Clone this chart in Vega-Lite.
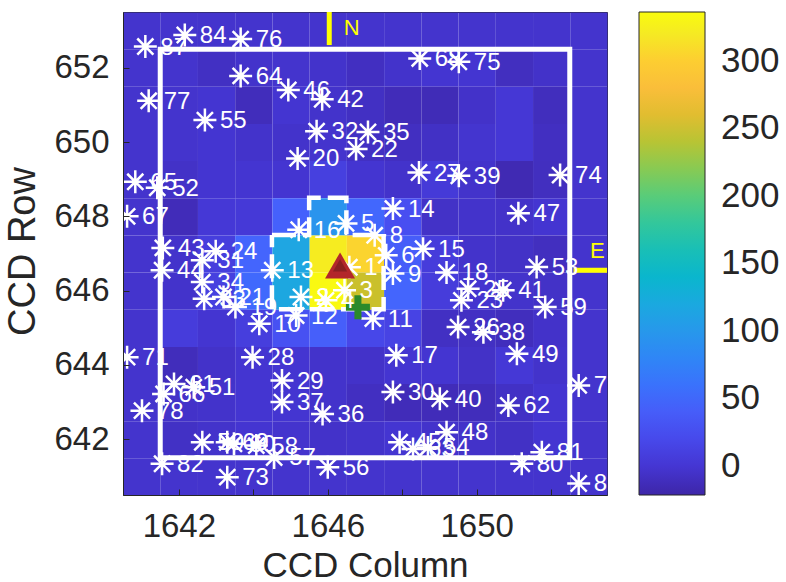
{
  "$schema": "https://vega.github.io/schema/vega-lite/v6.json",
  "width": 484,
  "height": 483,
  "autosize": {"type": "none"},
  "padding": {"left": 123, "top": 12, "right": 179, "bottom": 87},
  "background": "white",
  "config": {"view": {"stroke": "#262626", "strokeWidth": 1}},
  "resolve": {"axis": {"x": "independent", "y": "independent"}},
  "datasets": {
    "pixels": [
      {"col":1641,"row":653,"flux":-3},{"col":1642,"row":653,"flux":-3},{"col":1643,"row":653,"flux":-3},{"col":1644,"row":653,"flux":-3},{"col":1645,"row":653,"flux":-3},{"col":1646,"row":653,"flux":-3},{"col":1647,"row":653,"flux":-3},{"col":1648,"row":653,"flux":-3},{"col":1649,"row":653,"flux":-3},{"col":1650,"row":653,"flux":-3},{"col":1651,"row":653,"flux":-3},{"col":1652,"row":653,"flux":-3},{"col":1653,"row":653,"flux":-3},
      {"col":1641,"row":652,"flux":-3},{"col":1642,"row":652,"flux":-3},{"col":1643,"row":652,"flux":-8},{"col":1644,"row":652,"flux":-4},{"col":1645,"row":652,"flux":-3},{"col":1646,"row":652,"flux":-4},{"col":1647,"row":652,"flux":-9},{"col":1648,"row":652,"flux":-4},{"col":1649,"row":652,"flux":-1},{"col":1650,"row":652,"flux":-1},{"col":1651,"row":652,"flux":-10},{"col":1652,"row":652,"flux":-5},{"col":1653,"row":652,"flux":-3},
      {"col":1641,"row":651,"flux":-3},{"col":1642,"row":651,"flux":-3},{"col":1643,"row":651,"flux":-1},{"col":1644,"row":651,"flux":-12},{"col":1645,"row":651,"flux":-1},{"col":1646,"row":651,"flux":-4},{"col":1647,"row":651,"flux":-8},{"col":1648,"row":651,"flux":-13},{"col":1649,"row":651,"flux":-14},{"col":1650,"row":651,"flux":-5},{"col":1651,"row":651,"flux":1},{"col":1652,"row":651,"flux":-11},{"col":1653,"row":651,"flux":-3},
      {"col":1641,"row":650,"flux":-3},{"col":1642,"row":650,"flux":-3},{"col":1643,"row":650,"flux":-1},{"col":1644,"row":650,"flux":-4},{"col":1645,"row":650,"flux":-4},{"col":1646,"row":650,"flux":-3},{"col":1647,"row":650,"flux":-8},{"col":1648,"row":650,"flux":-9},{"col":1649,"row":650,"flux":-7},{"col":1650,"row":650,"flux":-2},{"col":1651,"row":650,"flux":1},{"col":1652,"row":650,"flux":-9},{"col":1653,"row":650,"flux":-3},
      {"col":1641,"row":649,"flux":-3},{"col":1642,"row":649,"flux":-6},{"col":1643,"row":649,"flux":-1},{"col":1644,"row":649,"flux":-1},{"col":1645,"row":649,"flux":-1},{"col":1646,"row":649,"flux":10},{"col":1647,"row":649,"flux":-1},{"col":1648,"row":649,"flux":-4},{"col":1649,"row":649,"flux":4},{"col":1650,"row":649,"flux":-4},{"col":1651,"row":649,"flux":-16},{"col":1652,"row":649,"flux":-10},{"col":1653,"row":649,"flux":-3},
      {"col":1641,"row":648,"flux":-3},{"col":1642,"row":648,"flux":-13},{"col":1643,"row":648,"flux":2},{"col":1644,"row":648,"flux":3},{"col":1645,"row":648,"flux":45},{"col":1646,"row":648,"flux":95},{"col":1647,"row":648,"flux":50},{"col":1648,"row":648,"flux":25},{"col":1649,"row":648,"flux":-6},{"col":1650,"row":648,"flux":-4},{"col":1651,"row":648,"flux":-5},{"col":1652,"row":648,"flux":-1},{"col":1653,"row":648,"flux":-3},
      {"col":1641,"row":647,"flux":-3},{"col":1642,"row":647,"flux":-4},{"col":1643,"row":647,"flux":8},{"col":1644,"row":647,"flux":48},{"col":1645,"row":647,"flux":116},{"col":1646,"row":647,"flux":322},{"col":1647,"row":647,"flux":304},{"col":1648,"row":647,"flux":40},{"col":1649,"row":647,"flux":6},{"col":1650,"row":647,"flux":-4},{"col":1651,"row":647,"flux":-6},{"col":1652,"row":647,"flux":-10},{"col":1653,"row":647,"flux":-3},
      {"col":1641,"row":646,"flux":-3},{"col":1642,"row":646,"flux":-4},{"col":1643,"row":646,"flux":10},{"col":1644,"row":646,"flux":52},{"col":1645,"row":646,"flux":118},{"col":1646,"row":646,"flux":334},{"col":1647,"row":646,"flux":248},{"col":1648,"row":646,"flux":48},{"col":1649,"row":646,"flux":6},{"col":1650,"row":646,"flux":-2},{"col":1651,"row":646,"flux":-4},{"col":1652,"row":646,"flux":-6},{"col":1653,"row":646,"flux":-3},
      {"col":1641,"row":645,"flux":-3},{"col":1642,"row":645,"flux":6},{"col":1643,"row":645,"flux":-1},{"col":1644,"row":645,"flux":8},{"col":1645,"row":645,"flux":28},{"col":1646,"row":645,"flux":42},{"col":1647,"row":645,"flux":18},{"col":1648,"row":645,"flux":14},{"col":1649,"row":645,"flux":-8},{"col":1650,"row":645,"flux":-8},{"col":1651,"row":645,"flux":-11},{"col":1652,"row":645,"flux":-5},{"col":1653,"row":645,"flux":-3},
      {"col":1641,"row":644,"flux":-3},{"col":1642,"row":644,"flux":-12},{"col":1643,"row":644,"flux":-5},{"col":1644,"row":644,"flux":-1},{"col":1645,"row":644,"flux":-1},{"col":1646,"row":644,"flux":-4},{"col":1647,"row":644,"flux":-5},{"col":1648,"row":644,"flux":-1},{"col":1649,"row":644,"flux":-1},{"col":1650,"row":644,"flux":-6},{"col":1651,"row":644,"flux":2},{"col":1652,"row":644,"flux":-4},{"col":1653,"row":644,"flux":-3},
      {"col":1641,"row":643,"flux":-3},{"col":1642,"row":643,"flux":-5},{"col":1643,"row":643,"flux":-4},{"col":1644,"row":643,"flux":-1},{"col":1645,"row":643,"flux":-1},{"col":1646,"row":643,"flux":-4},{"col":1647,"row":643,"flux":-9},{"col":1648,"row":643,"flux":-13},{"col":1649,"row":643,"flux":-13},{"col":1650,"row":643,"flux":-12},{"col":1651,"row":643,"flux":-7},{"col":1652,"row":643,"flux":-1},{"col":1653,"row":643,"flux":-3},
      {"col":1641,"row":642,"flux":-3},{"col":1642,"row":642,"flux":-7},{"col":1643,"row":642,"flux":-4},{"col":1644,"row":642,"flux":-1},{"col":1645,"row":642,"flux":-3},{"col":1646,"row":642,"flux":-5},{"col":1647,"row":642,"flux":-4},{"col":1648,"row":642,"flux":-1},{"col":1649,"row":642,"flux":-4},{"col":1650,"row":642,"flux":-5},{"col":1651,"row":642,"flux":-7},{"col":1652,"row":642,"flux":-1},{"col":1653,"row":642,"flux":-3},
      {"col":1641,"row":641,"flux":-3},{"col":1642,"row":641,"flux":-3},{"col":1643,"row":641,"flux":-3},{"col":1644,"row":641,"flux":-3},{"col":1645,"row":641,"flux":-3},{"col":1646,"row":641,"flux":-3},{"col":1647,"row":641,"flux":-3},{"col":1648,"row":641,"flux":-3},{"col":1649,"row":641,"flux":-3},{"col":1650,"row":641,"flux":-3},{"col":1651,"row":641,"flux":-3},{"col":1652,"row":641,"flux":-3},{"col":1653,"row":641,"flux":-3}
    ],
    "box": [{"c1":1641.5,"c2":1652.5,"r1":641.5,"r2":652.5}],
    "aperture": [
      {"o":0,"col":1644.5,"row":647.5},{"o":1,"col":1645.5,"row":647.5},{"o":2,"col":1645.5,"row":648.5},{"o":3,"col":1646.5,"row":648.5},{"o":4,"col":1646.5,"row":647.5},{"o":5,"col":1647.5,"row":647.5},{"o":6,"col":1647.5,"row":645.5},{"o":7,"col":1644.5,"row":645.5},{"o":8,"col":1644.5,"row":647.5}
    ],
    "compass": [
      {"dir":"N","c1":1646.04,"c2":1646.04,"r1":653.5,"r2":652.61,"lc":1646.64,"lr":653.07},
      {"dir":"E","c1":1652.6,"c2":1653.5,"r1":646.55,"r2":646.55,"lc":1653.24,"lr":647.08}
    ],
    "target": [{"col":1646.33,"row":646.68}],
    "centroid": [{"col":1646.81,"row":645.55}],
    "stars": [
      {"name":"87","col":1641.10,"row":652.57},{"name":"84","col":1642.16,"row":652.88},{"name":"76","col":1643.66,"row":652.77},{"name":"64","col":1643.66,"row":651.78},
      {"name":"46","col":1644.94,"row":651.40},{"name":"42","col":1645.85,"row":651.15},{"name":"77","col":1641.19,"row":651.11},{"name":"55","col":1642.70,"row":650.59},
      {"name":"32","col":1645.70,"row":650.29},{"name":"35","col":1647.08,"row":650.27},{"name":"22","col":1646.76,"row":649.81},{"name":"20","col":1645.19,"row":649.56},
      {"name":"65","col":1640.83,"row":648.93},{"name":"52","col":1641.42,"row":648.77},{"name":"67","col":1640.61,"row":648.00},{"name":"16","col":1645.22,"row":647.64},
      {"name":"5","col":1646.49,"row":647.81},{"name":"8","col":1647.26,"row":647.49},{"name":"14","col":1647.75,"row":648.21},{"name":"43","col":1641.57,"row":647.15},
      {"name":"24","col":1642.99,"row":647.06},{"name":"68","col":1648.47,"row":652.25},{"name":"75","col":1649.52,"row":652.16},{"name":"27","col":1648.45,"row":649.18},
      {"name":"39","col":1649.52,"row":649.09},{"name":"74","col":1652.24,"row":649.11},{"name":"47","col":1651.12,"row":648.08},{"name":"15","col":1648.56,"row":647.13},
      {"name":"31","col":1642.63,"row":646.82},{"name":"44","col":1641.55,"row":646.55},{"name":"34","col":1642.63,"row":646.23},{"name":"13","col":1644.51,"row":646.55},
      {"name":"1","col":1646.58,"row":646.63},{"name":"2","col":1645.28,"row":645.83},{"name":"4","col":1645.95,"row":645.74},{"name":"3","col":1646.45,"row":646.01},
      {"name":"12","col":1645.15,"row":645.33},{"name":"10","col":1644.16,"row":645.11},{"name":"33","col":1642.68,"row":645.78},{"name":"21","col":1643.20,"row":645.83},
      {"name":"19","col":1643.52,"row":645.56},{"name":"6","col":1647.57,"row":646.95},{"name":"9","col":1647.75,"row":646.46},{"name":"18","col":1649.19,"row":646.49},
      {"name":"25","col":1649.77,"row":646.05},{"name":"23","col":1649.59,"row":645.74},{"name":"41","col":1650.71,"row":646.01},{"name":"53","col":1651.61,"row":646.64},
      {"name":"59","col":1651.84,"row":645.56},{"name":"11","col":1647.21,"row":645.25},{"name":"26","col":1649.50,"row":645.02},{"name":"38","col":1650.18,"row":644.88},
      {"name":"17","col":1647.84,"row":644.26},{"name":"49","col":1651.08,"row":644.30},{"name":"30","col":1647.75,"row":643.27},{"name":"40","col":1649.01,"row":643.09},
      {"name":"62","col":1650.85,"row":642.91},{"name":"7","col":1652.74,"row":643.45},{"name":"48","col":1649.19,"row":642.19},{"name":"45","col":1647.93,"row":641.92},
      {"name":"63","col":1648.29,"row":641.74},{"name":"54","col":1648.69,"row":641.78},{"name":"81","col":1651.75,"row":641.65},{"name":"80","col":1651.21,"row":641.34},
      {"name":"85","col":1652.74,"row":640.81},{"name":"71","col":1640.61,"row":644.21},{"name":"28","col":1643.98,"row":644.21},{"name":"61","col":1641.87,"row":643.49},
      {"name":"66","col":1641.59,"row":643.22},{"name":"51","col":1642.40,"row":643.40},{"name":"78","col":1641.01,"row":642.77},{"name":"29","col":1644.77,"row":643.58},
      {"name":"37","col":1644.77,"row":643.00},{"name":"36","col":1645.86,"row":642.68},{"name":"50","col":1642.63,"row":641.92},{"name":"69","col":1643.30,"row":641.92},
      {"name":"60","col":1643.48,"row":641.88},{"name":"58","col":1644.08,"row":641.83},{"name":"57","col":1644.56,"row":641.51},{"name":"82","col":1641.55,"row":641.34},
      {"name":"73","col":1643.30,"row":640.98},{"name":"56","col":1646.00,"row":641.25}
    ]
  },
  "layer": [
    {
      "data": {"name": "pixels"},
      "mark": {"type": "rect", "binSpacing": 0, "strokeWidth": 0},
      "encoding": {
        "x": {
          "field": "col", "type": "quantitative",
          "bin": {"step": 1, "anchor": 0.5, "extent": [1640.5, 1653.5], "nice": false},
          "scale": {"domain": [1640.5, 1653.5], "nice": false, "zero": false},
          "axis": {
            "values": [1642, 1644, 1646, 1648, 1650, 1652],
            "labelExpr": "datum.value % 4 == 2 ? format(datum.value, 'd') : ''",
            "grid": false, "tickSize": -6, "labelPadding": 21,
            "labelFont": "Liberation Sans, sans-serif",
            "labelFontSize": 33, "labelColor": "#262626",
            "tickColor": "#262626", "domainColor": "#262626",
            "title": "CCD Column",
            "titleFont": "Liberation Sans, sans-serif",
            "titleFontSize": 35, "titleFontWeight": "normal", "titleColor": "#262626",
            "titleBaseline": "alphabetic", "titleY": 81
          }
        },
        "y": {
          "field": "row", "type": "quantitative",
          "bin": {"step": 1, "anchor": 0.5, "extent": [640.5, 653.5], "nice": false},
          "scale": {"domain": [640.5, 653.5], "nice": false, "zero": false},
          "axis": {
            "values": [642, 644, 646, 648, 650, 652],
            "labelExpr": "format(datum.value, 'd')",
            "grid": false, "tickSize": -6, "labelPadding": 20,
            "labelFont": "Liberation Sans, sans-serif",
            "labelFontSize": 33, "labelColor": "#262626",
            "tickColor": "#262626", "domainColor": "#262626",
            "title": "CCD Row",
            "titleFont": "Liberation Sans, sans-serif",
            "titleFontSize": 38, "titleFontWeight": "normal", "titleColor": "#262626",
            "titleAngle": 270, "titleAlign": "center", "titleBaseline": "alphabetic",
            "titleX": -89, "titleY": 239
          }
        },
        "color": {
          "field": "flux", "type": "quantitative",
          "scale": {
            "domain": [-21.5, 1.198, 23.897, 46.595, 69.294, 91.992, 114.69, 137.39, 160.08, 182.78, 205.48, 228.18, 250.87, 273.57, 296.27, 318.97, 336],
            "range": ["#3E26A8", "#4537D5", "#484DF0", "#4563FD", "#327CFC", "#2B91EF", "#20A5E3", "#08B5D0", "#19BFB6", "#37C897", "#64CD6F", "#9DC943", "#D1BF27", "#F8BA3D", "#FEC934", "#F5E924", "#F9FB0E"],
            "interpolate": "rgb"
          },
          "legend": {
            "orient": "none", "legendX": 516, "legendY": 0, "direction": "vertical",
            "gradientLength": 483, "gradientThickness": 66,
            "values": [0, 50, 100, 150, 200, 250, 300],
            "title": null, "padding": 0, "labelOverlap": false,
            "labelFont": "Liberation Sans, sans-serif",
            "labelFontSize": 35, "labelColor": "#262626", "labelOffset": 16,
            "gradientStrokeColor": "#262626", "gradientStrokeWidth": 1
          }
        }
      }
    },
    {
      "data": {"name": "box"},
      "mark": {"type": "rect", "fillOpacity": 0, "stroke": "white", "strokeWidth": 5},
      "encoding": {
        "x": {"field": "c1", "type": "quantitative",
              "axis": {"orient": "top", "values": [1642, 1644, 1646, 1648, 1650, 1652], "labels": false, "title": null, "grid": false, "domain": false, "tickSize": -6, "tickColor": "#262626"}},
        "x2": {"field": "c2"},
        "y": {"field": "r1", "type": "quantitative",
              "axis": {"orient": "right", "values": [642, 644, 646, 648, 650, 652], "labels": false, "title": null, "grid": false, "domain": false, "tickSize": -6, "tickColor": "#262626"}},
        "y2": {"field": "r2"}
      }
    },
    {
      "data": {"name": "aperture"},
      "mark": {"type": "line", "stroke": "white", "strokeWidth": 4.5, "strokeDash": [24, 7], "clip": true},
      "encoding": {
        "x": {"field": "col", "type": "quantitative", "axis": null},
        "y": {"field": "row", "type": "quantitative", "axis": null},
        "order": {"field": "o", "type": "quantitative"}
      }
    },
    {
      "data": {"name": "compass"},
      "mark": {"type": "rule", "stroke": "#FFFF00", "strokeWidth": 5, "clip": true},
      "encoding": {
        "x": {"field": "c1", "type": "quantitative", "axis": null},
        "x2": {"field": "c2"},
        "y": {"field": "r1", "type": "quantitative", "axis": null},
        "y2": {"field": "r2"}
      }
    },
    {
      "data": {"name": "compass"},
      "mark": {"type": "text", "fill": "#FFFF00", "font": "Liberation Sans, sans-serif", "fontSize": 22, "align": "center", "baseline": "middle", "clip": true},
      "encoding": {
        "x": {"field": "lc", "type": "quantitative", "axis": null},
        "y": {"field": "lr", "type": "quantitative", "axis": null},
        "text": {"field": "dir"}
      }
    },
    {
      "data": {"name": "stars"},
      "mark": {"type": "point", "shape": "M0,-1L0,1M-1,0L1,0M-0.7,-0.7L0.7,0.7M-0.7,0.7L0.7,-0.7", "filled": false, "stroke": "white", "strokeWidth": 2.5, "size": 529, "opacity": 1, "clip": true},
      "encoding": {
        "x": {"field": "col", "type": "quantitative", "axis": null},
        "y": {"field": "row", "type": "quantitative", "axis": null}
      }
    },
    {
      "data": {"name": "target"},
      "mark": {"type": "point", "shape": "triangle-up", "filled": true, "fill": "#B3262B", "size": 900, "opacity": 1, "strokeWidth": 0},
      "encoding": {
        "x": {"field": "col", "type": "quantitative", "axis": null},
        "y": {"field": "row", "type": "quantitative", "axis": null}
      }
    },
    {
      "data": {"name": "target"},
      "mark": {"type": "point", "shape": "triangle-up", "filled": true, "fill": "#8A1F22", "size": 200, "opacity": 1, "strokeWidth": 0},
      "encoding": {
        "x": {"field": "col", "type": "quantitative", "axis": null},
        "y": {"field": "row", "type": "quantitative", "axis": null}
      }
    },
    {
      "data": {"name": "centroid"},
      "mark": {"type": "point", "shape": "M-1,0L1,0M0,-1L0,1", "filled": false, "stroke": "#2B8A2B", "strokeWidth": 7, "size": 576, "opacity": 1},
      "encoding": {
        "x": {"field": "col", "type": "quantitative", "axis": null},
        "y": {"field": "row", "type": "quantitative", "axis": null}
      }
    },
    {
      "data": {"name": "stars"},
      "mark": {"type": "text", "fill": "white", "font": "Liberation Sans, sans-serif", "fontSize": 24, "align": "left", "baseline": "middle", "dx": 15, "dy": 1, "clip": true},
      "encoding": {
        "x": {"field": "col", "type": "quantitative", "axis": null},
        "y": {"field": "row", "type": "quantitative", "axis": null},
        "text": {"field": "name"}
      }
    }
  ]
}
